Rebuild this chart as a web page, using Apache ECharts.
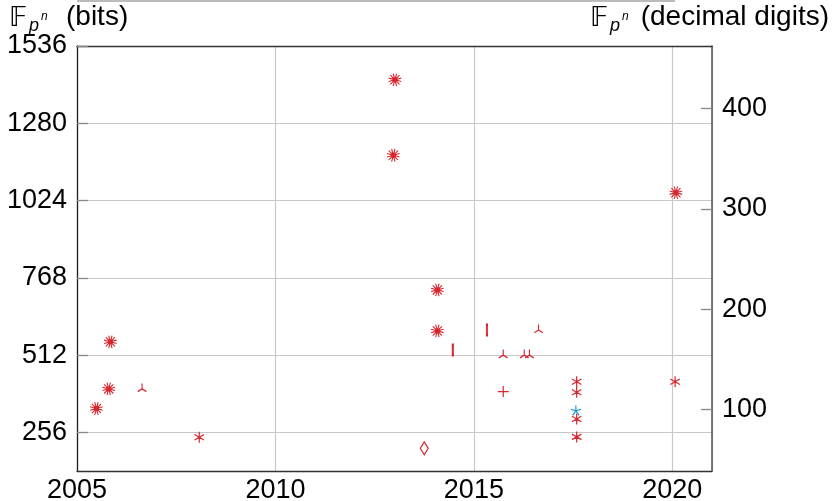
<!DOCTYPE html>
<html><head><meta charset="utf-8">
<script src="https://cdn.jsdelivr.net/npm/echarts@6/dist/echarts.min.js"></script>
<style>html,body{margin:0;padding:0;background:#fff}#c{width:834px;height:501px}</style>
</head><body><div id="c"></div>
<script>
// ---- data (year, bits) ----
const burstYears = [2005.49, 2005.80, 2005.84, 2013.01, 2012.97, 2014.08, 2014.08, 2020.09];
const burstBits  = [335, 400, 556, 1424, 1174, 728, 592, 1050];
const asteriskYears = [2008.08, 2017.59, 2017.59, 2017.59, 2017.59, 2020.07];
const asteriskBits  = [240, 424, 389, 300, 241, 424];
const tripodYears = [2006.64, 2015.74, 2016.63, 2016.27, 2016.40];
const tripodBits  = [400, 512, 595, 512, 512];
const barYears = [2014.47, 2015.33];
const barBits  = [529, 595];
const plusYears = [2015.74];
const plusBits  = [391];
const diamondYears = [2013.75];
const diamondBits  = [203];
const starYears = [2017.57];
const starBits  = [327];

const xTicks = [2005, 2010, 2015, 2020];
const bitTicks = [256, 512, 768, 1024, 1280, 1536];
const digitTicks = [100, 200, 300, 400];

const RED = '#d8262e', BLUE = '#1c9ad6';
const LOG2 = Math.LOG10E * Math.LN2;
const FONT = "'Liberation Sans','Arial',sans-serif";
const FS = 27;

function spokes(angles, pad) {
  let p = '';
  angles.forEach(a => {
    const r = a * Math.PI / 180;
    p += 'M0,0L' + Math.cos(r).toFixed(4) + ',' + (-Math.sin(r)).toFixed(4);
  });
  if (pad) p += 'M0,1L0,1M0,-1L0,-1M1,0L1,0M-1,0L-1,0';
  return 'path://' + p;
}
const burstAngles = []; for (let i = 0; i < 12; i++) burstAngles.push(i * 30 + 15);
const burstPath = spokes(burstAngles, true).replace('path://', 'path://M-0.3,-0.3L0.3,-0.3L0.3,0.3L-0.3,0.3Z');
const asteriskPath = spokes([90, 30, 150, 270, 210, 330], true);
const tripodPath = spokes([90, 210, 330], true);
const plusPath = spokes([0, 90, 180, 270], false);
const starPath = spokes([90, 18, 162, 234, 306], true);

function pts(xs, ys) { return xs.map((x, i) => [x, ys[i]]); }
function ser(name, xs, ys, symbol, size, color, fill, bw) {
  return {
    name, type: 'scatter', xAxisIndex: 0, yAxisIndex: 0,
    data: pts(xs, ys), symbol, symbolSize: size, symbolKeepAspect: false,
    itemStyle: { color: fill ? color : 'rgba(0,0,0,0)', borderColor: color, borderWidth: bw || 1.2, opacity: 1 },
    emphasis: { disabled: true }, silent: true, z: 5
  };
}

const chart = echarts.init(document.getElementById('c'), null, { renderer: 'canvas' });
chart.setOption({
  animation: false,
  backgroundColor: '#fff',
  textStyle: { fontFamily: FONT },
  grid: { left: 77, right: 122, top: 46, bottom: 30, containLabel: false, outerBoundsMode: 'none' },
  xAxis: [{
    type: 'value', min: 2005, max: 2021, interval: 5,
    axisLine: { show: true, onZero: false, lineStyle: { color: '#333', width: 1.3 } },
    axisTick: { show: false },
    axisLabel: { color: '#000', fontSize: FS, fontFamily: FONT, margin: 6, showMaxLabel: false,
      formatter: v => String(v) },
    splitLine: { show: true, lineStyle: { color: '#c8c8c8', width: 1.2 } }
  }, {
    type: 'value', position: 'top', min: 2005, max: 2021,
    axisLine: { show: true, lineStyle: { color: '#333', width: 1.3 } },
    axisTick: { show: false }, axisLabel: { show: false }, splitLine: { show: false }
  }],
  yAxis: [{
    type: 'value', position: 'left', min: 128, max: 1536,
    axisLine: { show: true, onZero: false, lineStyle: { color: '#222', width: 1.3 } },
    axisTick: { show: true, inside: true, length: 11, customValues: bitTicks, lineStyle: { color: '#888', width: 1.3 } },
    axisLabel: { color: '#000', fontSize: FS, fontFamily: FONT, margin: 10, customValues: bitTicks,
      formatter: v => String(v) },
    splitLine: { show: true, lineStyle: { color: '#c8c8c8', width: 1.2 } }
  }, {
    type: 'value', position: 'right', min: 128 * LOG2, max: 1536 * LOG2,
    axisLine: { show: true, onZero: false, lineStyle: { color: '#555', width: 1.5 } },
    axisTick: { show: true, inside: true, length: 11, customValues: digitTicks, lineStyle: { color: '#888', width: 1.3 } },
    axisLabel: { color: '#000', fontSize: FS, fontFamily: FONT, margin: 10, customValues: digitTicks,
      formatter: v => String(v) },
    splitLine: { show: false }
  }],
  series: [
    ser('burst', burstYears, burstBits, burstPath, [13, 13], RED, true, 1.1),
    ser('asterisk', asteriskYears, asteriskBits, asteriskPath, [11, 11], RED, false),
    ser('tripod', tripodYears, tripodBits, tripodPath, [10, 11], RED, false),
    ser('bar', barYears, barBits, 'rect', [1.6, 10], RED, true, 0),
    ser('plus', plusYears, plusBits, plusPath, [11, 11], RED, false),
    ser('diamond', diamondYears, diamondBits, 'diamond', [8, 13], RED, false),
    ser('star', starYears, starBits, starPath, [11, 11], BLUE, false)
  ],
  graphic: [
    { type: 'line', shape: { x1: 77, y1: 1, x2: 675, y2: 1 }, style: { stroke: '#bbb', lineWidth: 2 } },
    { type: 'text', left: 9, top: 5, style: { text: '𝔽', font: "27px 'DejaVu Sans'", fill: '#000' } },
    { type: 'text', left: 29, top: 17, style: { text: 'p', font: "italic 18px " + FONT, fill: '#000' } },
    { type: 'text', left: 41, top: 11, style: { text: 'n', font: "italic 12px " + FONT, fill: '#000' } },
    { type: 'text', left: 66, top: 3, style: { text: '(bits)', font: "28px " + FONT, fill: '#000' } },
    { type: 'text', left: 590, top: 5, style: { text: '𝔽', font: "27px 'DejaVu Sans'", fill: '#000' } },
    { type: 'text', left: 610, top: 17, style: { text: 'p', font: "italic 18px " + FONT, fill: '#000' } },
    { type: 'text', left: 622, top: 11, style: { text: 'n', font: "italic 12px " + FONT, fill: '#000' } },
    { type: 'text', right: 5, top: 3, style: { text: '(decimal digits)', font: "28px " + FONT, fill: '#000' } }
  ]
});
</script></body></html>
